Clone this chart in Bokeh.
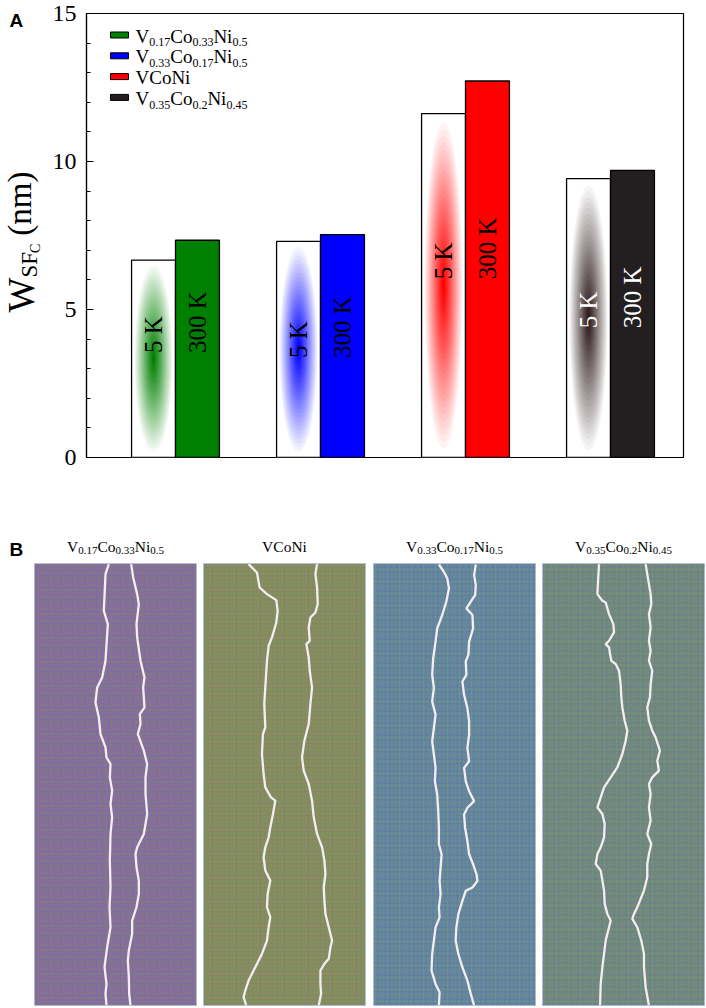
import math
from bokeh.plotting import figure
from bokeh.models import Range1d, SingleIntervalTicker
from bokeh.layouts import column, row
from bokeh.embed import file_html
from bokeh.resources import INLINE
from bokeh.core.properties import value

# ---------------- data: panel A ----------------
groups = [1, 2, 3, 4]
alloy_pieces = [
    [("V", 0), ("0.17", 1), ("Co", 0), ("0.33", 1), ("Ni", 0), ("0.5", 1)],
    [("V", 0), ("0.33", 1), ("Co", 0), ("0.17", 1), ("Ni", 0), ("0.5", 1)],
    [("VCoNi", 0)],
    [("V", 0), ("0.35", 1), ("Co", 0), ("0.2", 1), ("Ni", 0), ("0.45", 1)],
]
w_5K = [6.67, 7.30, 11.62, 9.42]
w_300K = [7.34, 7.53, 12.72, 9.70]
label_start = [3.53, 3.36, 6.02, 4.37]
bar_colors = ["#008000", "#0000ff", "#ff0000", "#231f20"]
glow_colors = ["#008000", "#0000ff", "#ff0000", "#2e1a1a"]
text_colors = ["black", "black", "black", "white"]
y_major = 5

# ---------------- data: panel B (snapshot frames, image pixel coords) ----------------
panel_order = [0, 2, 1, 3]
img_w = [486, 485, 483, 487]
img_h = [1327, 1327, 1330, 1327]
panel_base = ["#7e6ca4", "#808a62", "#6484a0", "#72887e"]
panel_dot1 = ["#c46a6a", "#6fb440", "#70b848", "#6cb04a"]
panel_dot2 = ["#6a9c50", "#c07070", "#5a64c8", "#6a60c0"]

p1_left = [(223,2),(213,32),(208,142),(220,182),(213,292),(203,342),(188,372),(183,417),(193,462),(198,512),(213,552),(216,582),(228,602),(226,642),(233,682),(228,722),(233,762),(228,812),(226,892),(228,972),(225,1032),(228,1092),(218,1152),(210,1212),(216,1262),(213,1292),(216,1327)]
p1_right = [(290,2),(296,42),(308,92),(313,122),(306,182),(308,222),(318,292),(330,342),(326,372),(330,432),(316,452),(318,482),(310,512),(328,562),(338,602),(333,642),(333,692),(338,752),(328,812),(308,852),(303,872),(306,912),(313,952),(313,992),(306,1032),(293,1072),(293,1112),(283,1162),(280,1192),(283,1242),(284,1292),(288,1327)]
p2_left = [(135,2),(160,27),(168,72),(190,92),(218,110),(222,142),(218,177),(205,222),(195,247),(190,292),(185,372),(182,422),(185,492),(178,512),(175,572),(180,632),(185,672),(202,702),(215,712),(208,752),(200,792),(195,822),(185,852),(180,882),(185,922),(200,952),(192,992),(190,1032),(200,1062),(195,1092),(190,1132),(175,1172),(150,1222),(135,1252),(125,1282),(120,1302),(128,1327)]
p2_right = [(340,2),(335,32),(340,72),(342,122),(335,147),(320,162),(315,192),(318,232),(308,242),(315,282),(318,322),(325,372),(320,422),(315,482),(302,532),(295,582),(300,622),(315,662),(325,712),(330,762),(340,812),(355,852),(362,892),(365,932),(360,972),(362,1012),(365,1052),(375,1092),(385,1132),(380,1152),(375,1187),(362,1202),(350,1222),(350,1262),(352,1292),(345,1327)]
p3_left = [(195,3),(210,25),(220,45),(225,75),(217,115),(205,155),(190,195),(185,235),(178,285),(175,335),(180,375),(175,415),(185,455),(180,495),(175,535),(180,575),(185,615),(183,655),(190,695),(193,745),(195,795),(195,845),(203,875),(200,915),(197,955),(200,995),(195,1035),(197,1065),(185,1095),(180,1135),(175,1175),(173,1225),(185,1265),(197,1290),(195,1330)]
p3_right = [(305,3),(300,35),(305,65),(303,95),(290,115),(277,135),(295,155),(297,195),(285,235),(283,275),(275,295),(277,335),(265,355),(270,395),(280,435),(285,475),(285,515),(280,555),(285,595),(270,615),(275,655),(285,685),(300,715),(280,735),(270,755),(273,795),(280,835),(285,875),(297,905),(307,935),(310,955),(295,975),(275,985),(265,1015),(253,1055),(247,1095),(245,1135),(253,1175),(265,1215),(280,1255),(290,1295),(300,1330)]
p4_left = [(170,2),(167,52),(165,92),(180,112),(190,117),(200,152),(213,182),(215,207),(200,232),(190,242),(200,252),(203,272),(207,292),(220,302),(230,322),(235,362),(237,402),(240,432),(247,472),(255,502),(250,532),(240,572),(225,612),(205,642),(185,672),(175,702),(165,732),(180,752),(187,782),(185,822),(175,852),(165,872),(160,902),(175,922),(180,952),(185,982),(187,1022),(195,1052),(205,1072),(200,1092),(190,1132),(185,1172),(180,1212),(175,1262),(173,1327)]
p4_right = [(310,2),(315,32),(320,62),(325,92),(327,122),(320,152),(325,192),(320,232),(325,262),(320,292),(330,322),(325,362),(323,402),(315,432),(320,472),(330,502),(340,522),(353,562),(345,592),(350,622),(330,642),(320,662),(325,692),(320,732),(325,772),(315,812),(327,842),(320,872),(315,902),(315,942),(305,982),(293,1012),(285,1032),(275,1052),(270,1067),(285,1092),(297,1132),(305,1172),(305,1212),(310,1272),(320,1327)]
panel_lines = [(p1_left, p1_right), (p2_left, p2_right), (p3_left, p3_right), (p4_left, p4_right)]

# ---------------- text metrics (Times / Liberation Serif) ----------------
ADV = {'0':500,'1':500,'2':500,'3':500,'4':500,'5':500,'6':500,'7':500,'8':500,'9':500,
       '.':250,' ':250,'V':722,'C':667,'o':500,'N':722,'i':278,'K':722,'W':944,
       'S':556,'F':556,'(':333,')':333,'n':500,'m':778}
def tw(s, size):
    return sum(ADV.get(c, 500) for c in s) * size / 1000.0

SERIF = "Liberation Serif"
MID = {SERIF: 0.3375, "Liberation Sans": 0.3465}   # em-box centre above the baseline
ident = lambda v: v
neg = lambda v: -v

def put_text(p, bx, by, txt, size, fx=ident, fy=neg, vertical=False, color="black",
             font=SERIF, style="normal"):
    """Place a text whose baseline starts at page px (bx, by)."""
    m = MID[font] * size
    if vertical:
        x, y, ang = bx - m, by, math.pi / 2
    else:
        x, y, ang = bx, by - m, 0.0
    p.text(x=[fx(x)], y=[fy(y)], text=[txt], angle=ang, text_font=value(font),
           text_font_size=f"{size}px", text_font_style=style, text_color=color,
           text_align="left", text_baseline="middle")

def rich(p, pieces, x0, y0, fx=ident, fy=neg, color="black", vertical=False):
    """pieces: (text, size_px, drop_px, kern_px); positions in page px (baseline)."""
    pos = 0.0
    for txt, size, drop, kern in pieces:
        pos += kern
        if vertical:
            lx, ly = x0 + drop, y0 - pos
        else:
            lx, ly = x0 + pos, y0 + drop
        put_text(p, lx, ly, txt, size, fx, fy, vertical=vertical, color=color)
        pos += tw(txt, size)

def total_w(pieces):
    return sum(tw(t, s) + k for t, s, d, k in pieces)

def blank_fig(w, h, x0, y0, top=0, bottom=0):
    """Frame covers [x0, x0+w] x [y0+top, y0+h-bottom] in page px; y data = -(page px)."""
    f = figure(width=w, height=h, x_range=Range1d(x0, x0 + w),
               y_range=Range1d(-(y0 + h - bottom), -(y0 + top)),
               output_backend="svg", toolbar_location=None,
               x_axis_location=None, y_axis_location=None,
               min_border=0, min_border_left=0, min_border_right=0,
               min_border_top=top, min_border_bottom=bottom)
    f.grid.visible = False
    f.outline_line_color = None
    f.background_fill_color = "white"
    f.border_fill_color = "white"
    return f

# ---------------- panel A ----------------
TOP_H = 530
LAB_W = 45
FA_L, FA_R, FA_T, FA_B = 86, 683, 13, 457   # frame in page px
X0, X1 = 0.3862, 4.5034
def ax(px):
    return X0 + (px - FA_L) * (X1 - X0) / (FA_R - FA_L)
def ay(py):
    return 15.0 * (FA_B - py) / (FA_B - FA_T)

pA_w = 705 - LAB_W
pA = figure(width=pA_w, height=TOP_H, x_range=Range1d(X0, X1), y_range=Range1d(0, 15),
            output_backend="svg", toolbar_location=None,
            min_border_left=FA_L - LAB_W, min_border_right=705 - FA_R,
            min_border_top=FA_T, min_border_bottom=TOP_H - FA_B)
pA.xaxis.visible = False
pA.xgrid.visible = False
pA.ygrid.visible = False
pA.outline_line_color = "black"
pA.outline_line_width = 1.2
pA.background_fill_color = "white"
pA.yaxis.ticker = SingleIntervalTicker(interval=y_major, num_minor_ticks=5)
pA.yaxis.major_label_text_font = SERIF
pA.yaxis.major_label_text_font_size = "24px"
pA.yaxis.major_label_text_color = "black"
pA.yaxis.major_tick_in = 7
pA.yaxis.major_tick_out = 0
pA.yaxis.minor_tick_in = 4
pA.yaxis.minor_tick_out = 0
pA.yaxis.major_label_standoff = 10
pA.yaxis.axis_line_color = "black"
pA.yaxis.axis_line_width = 1.2
pA.yaxis.major_tick_line_color = "black"
pA.yaxis.minor_tick_line_color = "black"

bw = 0.303
x5 = [g - bw / 2 for g in groups]
x3 = [g + bw / 2 for g in groups]

pA.vbar(x=x5, width=bw, top=w_5K, bottom=0, fill_color="white", line_color="black", line_width=1.3)
pA.vbar(x=x3, width=bw, top=w_300K, bottom=0, fill_color=bar_colors, line_color="black", line_width=1.3)

# radial glow inside the 5 K bars (stacked translucent ellipses, linear fade)
N = 24
ew = 0.262
for k in range(N, 0, -1):
    f = k / N
    pA.ellipse(x=x5, y=[v / 2 for v in w_5K], width=ew * f,
               height=[v * 0.95 * f for v in w_5K],
               fill_color=glow_colors, fill_alpha=1.0 / k, line_color=None)

pA.text(x=x5, y=label_start, text=["5 K"] * 4, angle=math.pi / 2,
        text_align="left", text_baseline="middle", text_color=text_colors,
        text_font=value(SERIF), text_font_size="25px")
pA.text(x=x3, y=label_start, text=["300 K"] * 4, angle=math.pi / 2,
        text_align="left", text_baseline="middle", text_color=text_colors,
        text_font=value(SERIF), text_font_size="25px")

# legend (custom, for subscripts)
row_c = [34.5 + 20.8 * i for i in range(4)]
pA.quad(left=[ax(110)] * 4, right=[ax(128)] * 4,
        top=[ay(c - 3) for c in row_c], bottom=[ay(c + 3) for c in row_c],
        fill_color=bar_colors, line_color="black", line_width=1)
for i in range(4):
    pcs = [(t, 12 if s else 19, 4 if s else 0, 0) for t, s in alloy_pieces[i]]
    rich(pA, pcs, 135, row_c[i] + 7.5, ax, ay)

# left strip (frame aligned with panel A's frame): panel letter and y-axis title
pL = blank_fig(LAB_W, TOP_H, 0, 0, top=FA_T, bottom=TOP_H - FA_B)
rich(pL, [("W", 37, 0, 0), ("SF", 23, 4, 0), ("C", 14, 7, -1), ("(nm)", 33, -2, 8)],
     33, 312, vertical=True)
put_text(pL, 9, 27, "A", 19, font="Liberation Sans", style="bold")

# ---------------- panel B ----------------
PB_L = [34, 203, 373, 542]
PB_T = 563
PB_W = 162
TITLE_H = PB_T - TOP_H
PANEL_H = 1006 - PB_T
fig_w = [200, 169, 169, 167]
b_left = [34, 3, 4, 4]

pT = blank_fig(705, TITLE_H, 0, TOP_H)
for i in range(4):
    pcs = [(t, 11 if s else 15.5, 3 if s else 0, 0) for t, s in alloy_pieces[panel_order[i]]]
    cx = PB_L[i] + PB_W / 2
    rich(pT, pcs, cx - total_w(pcs) / 2, 551)
put_text(pT, 9, 556, "B", 19, font="Liberation Sans", style="bold")

panels = []
for i in range(4):
    w, h = img_w[i], img_h[i]
    pb = figure(width=fig_w[i], height=PANEL_H, x_range=Range1d(0, w), y_range=Range1d(h, 0),
                output_backend="svg", toolbar_location=None,
                x_axis_location=None, y_axis_location=None,
                min_border_left=b_left[i], min_border_right=fig_w[i] - b_left[i] - PB_W,
                min_border_top=0, min_border_bottom=PANEL_H - 442)
    pb.grid.visible = False
    pb.background_fill_color = panel_base[i]
    pb.border_fill_color = "white"
    pb.outline_line_color = "#b4c0dc"
    pb.outline_line_width = 1
    pb.quad(left=[0], right=[w], top=[0], bottom=[h], fill_alpha=0, line_color=None,
            hatch_pattern="dot", hatch_color=panel_dot1[i], hatch_scale=4,
            hatch_weight=1.6, hatch_alpha=0.6)
    pb.quad(left=[0], right=[w], top=[0], bottom=[h], fill_alpha=0, line_color=None,
            hatch_pattern="ring", hatch_color=panel_dot2[i], hatch_scale=6,
            hatch_weight=1.0, hatch_alpha=0.4)
    for ln in panel_lines[i]:
        xs = [pt[0] for pt in ln]
        ys = [pt[1] for pt in ln]
        pb.line(xs, ys, line_color="#f4eef2", line_width=2.3)
    panels.append(pb)

layout = column(row(pL, pA), pT, row(*panels))
open("out.html", "w").write(file_html(layout, INLINE))
